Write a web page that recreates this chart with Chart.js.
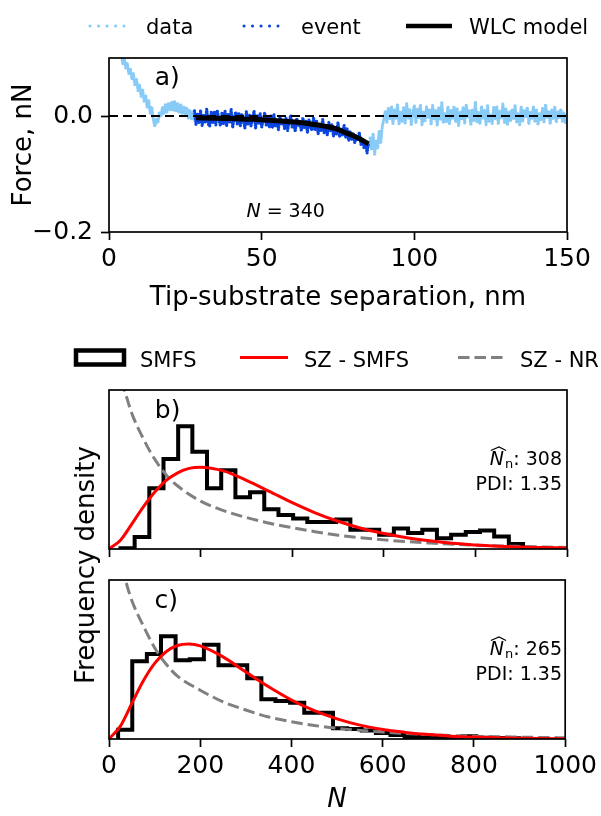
<!DOCTYPE html>
<html>
<head>
<meta charset="utf-8">
<title>SMFS chain length</title>
<script src="https://cdn.jsdelivr.net/npm/chart.js@4.4.0/dist/chart.umd.min.js"></script>
<style>
  html, body { margin: 0; padding: 0; background: #fff; }
  #fig { position: relative; width: 601px; height: 816px; overflow: hidden; }
  #fig canvas { position: absolute; left: 0; }
  #freq-label {
    position: absolute; left: 85px; top: 565px;
    transform: translate(-50%, -50%) rotate(-90deg);
    font: 26px "DejaVu Sans"; white-space: nowrap; color: #000;
  }
</style>
</head>
<body>
<div id="fig">
  <canvas id="chart-a" width="601" height="320" style="top:0"></canvas>
  <canvas id="chart-b" width="601" height="235" style="top:330px"></canvas>
  <canvas id="chart-c" width="601" height="251" style="top:565px"></canvas>
  <div id="freq-label">Frequency density</div>
</div>
<script>
// ---------------------------------------------------------------------------
// Panel a: force vs. tip-substrate separation (forces in pN, plotted in nN)
// ---------------------------------------------------------------------------
const X_TICKS_A = [0, 50, 100, 150];
const Y_TICKS_A = [-0.2, 0.0];
const SEP_STEP_NM = 0.5;

const DATA_PRE_START_NM = 3;
const DATA_PRE_PN = [
  122, 106, 108, 90, 100, 82, 91, 72, 82, 63,
  73, 52, 63, 44, 55, 34, 46, 25, 36, 15,
  27, 4, 15, -6, -18, -6, -12, 7, -1, 15,
  3, 20, 7, 23, 9, 24, 10, 26, 7, 22,
  5, 20, 3, 17, 0, 14, -4, 10, -6, 8,
  -8,
];

const DATA_POST_START_NM = 85.5;
const DATA_POST_PN = [
  -38, -58, -30, -66, -42, -55, -25, -47, -18, -6,
  9, -11, 14, -6, 17, -13, 10, -4, 19, -15,
  8, -9, 15, -14, 21, -5, 12, -16, 6, 18,
  -12, 13, -4, 20, -15, 7, -10, 16, -3, 12,
  -14, 18, -7, 11, -17, 15, -6, 23, -12, 4,
  -10, 16, -15, 10, -4, 17, -11, 13, -18, 7,
  -6, 15, -13, 19, -2, 9, -16, 12, -8, 24,
  -11, 6, -14, 16, -4, 11, -15, 18, -9, 3,
  -13, 15, -6, 17, -14, 9, -3, 21, -11, 13,
  -16, 8, -8, 12, -5, 18, -12, 6, -15, 16,
  -9, 11, -3, 15, -14, 8, -6, 17, -11, 12,
  -15, 5, -8, 13, -12, 20, -4, 9, -14, 11,
  -6, 15, -11, 8, -3, 12, -9, 6, -12, 4,
];

const EVENT_START_NM = 28;
const EVENT_PN = [
  9, -15, 5, -13, 10, -17, 2, -11, 12, -14,
  -18, 8, -12, 7, -16, 10, -7, -17, 5, -13,
  9, -18, 3, -10, 12, -20, -3, 7, -15, 5,
  -18, 4, -8, -21, 8, -14, 3, -17, -5, 9,
  -22, 2, -13, 5, -19, -8, 6, -16, -3, -20,
  0, -21, 3, -17, -9, -24, 1, -14, -6, -22,
  -3, -25, -10, 1, -20, -14, -27, -4, -18, -11,
  -26, -3, -21, -9, -29, -6, -19, -25, -2, -23,
  -9, -31, -14, -25, -6, -30, -18, -33, -11, -27,
  -14, -35, -19, -31, -11, -36, -22, -33, -16, -38,
  -22, -43, -27, -40, -29, -47, -33, -42, -28, -49,
  -38, -55, -44, -64, -48,
];

const WLC_SEP_NM = [28.5, 35, 40, 45, 50, 55, 60, 65, 70, 75, 78, 80, 82, 84, 85];
const WLC_FORCE_PN = [-3, -4, -4.5, -5.5, -6.5, -8, -10, -13, -17, -23, -30, -34, -39, -45, -48];

const EVENT_N = 340;

// ---------------------------------------------------------------------------
// Panels b, c: chain-length distributions (density in units of 1e-3)
// ---------------------------------------------------------------------------
const X_TICKS_N = [0, 200, 400, 600, 800, 1000];
const Y_MAX_DENSITY = 5.05;

const BIN_EDGES_B = [25, 56, 88, 119, 151, 182, 214, 245, 276, 308, 339, 370, 402, 433, 465,
  496, 527, 559, 590, 622, 653, 684, 716, 747, 779, 810, 841, 873, 904];
const DENSITY_B = [0.02, 0.38, 1.93, 2.86, 3.90, 3.09, 1.93, 2.50, 1.64, 1.80, 1.26, 1.08, 0.97, 0.86,
  0.86, 0.94, 0.61, 0.61, 0.45, 0.65, 0.51, 0.61, 0.34, 0.45, 0.54, 0.59, 0.40, 0.16];

const BIN_EDGES_C = [20, 51, 83, 114, 146, 177, 208, 240, 271, 303, 334, 365, 397, 428, 460,
  491, 522, 554, 585, 617, 648, 679, 711, 742, 774, 805, 836, 868, 899];
const DENSITY_C = [0.29, 2.47, 2.70, 3.26, 2.50, 2.53, 2.99, 2.34, 2.34, 1.93, 1.26, 1.21, 1.15, 0.83,
  0.83, 0.34, 0.32, 0.27, 0.19, 0.13, 0.06, 0.05, 0.05, 0.04, 0.09, 0.04, 0.03, 0.02];

const SZ_N = [0, 25, 50, 75, 100, 125, 150, 175, 200, 250, 300, 350, 400, 450, 500, 550, 600,
  650, 700, 750, 800, 850, 900, 950, 1000];
const SZ_SMFS_B = [0, 0.28, 0.80, 1.34, 1.81, 2.18, 2.42, 2.56, 2.60, 2.48, 2.18, 1.83, 1.47, 1.15,
  0.88, 0.66, 0.49, 0.36, 0.26, 0.18, 0.13, 0.09, 0.06, 0.045, 0.03];
const SZ_SMFS_C = [0, 0.41, 1.13, 1.84, 2.40, 2.77, 2.97, 3.02, 2.96, 2.61, 2.13, 1.66, 1.24, 0.90,
  0.64, 0.44, 0.30, 0.21, 0.14, 0.09, 0.06, 0.04, 0.025, 0.016, 0.01];

const NR_N = [20, 30, 40, 50, 75, 100, 125, 150, 200, 250, 300, 350, 400, 450, 500, 600, 700, 800, 900, 1000];
const SZ_NR_B = [6.4, 5.3, 4.75, 4.3, 3.5, 2.85, 2.35, 2.0, 1.52, 1.22, 1.0, 0.82, 0.68, 0.55, 0.44,
  0.29, 0.19, 0.12, 0.08, 0.05];
const SZ_NR_C = [6.5, 5.4, 4.85, 4.4, 3.6, 2.9, 2.38, 2.0, 1.55, 1.18, 0.92, 0.70, 0.55, 0.43, 0.34,
  0.22, 0.14, 0.09, 0.06, 0.04];

const NN_B = 308, PDI_B = 1.35;
const NN_C = 265, PDI_C = 1.35;

// ---------------------------------------------------------------------------
// Styling
// ---------------------------------------------------------------------------
const FONT = "DejaVu Sans";
const LIGHT_BLUE = "#88cbf6";
const EVENT_BLUE = "#0a45df";
const SPINE = 1.7;

Chart.defaults.font.family = FONT;
Chart.defaults.color = "#000";

const toPoints = (xs, ys) => xs.map((x, i) => ({ x, y: ys[i] }));
const sampled = (start, pn) => pn.map((f, i) => ({ x: start + i * SEP_STEP_NM, y: f / 1000 }));

function stepOutline(edges, heights) {
  const last = edges[edges.length - 1];
  const pts = [{ x: edges[0], y: 0 }];
  heights.forEach((h, i) => pts.push({ x: edges[i], y: h }));
  pts.push({ x: last, y: heights[heights.length - 1] }, { x: last, y: 0 });
  return pts;
}

function fixedTicks(values) {
  return (scale) => { scale.ticks = values.map((value) => ({ value })); };
}

const signed = (v) => (v < 0 ? "\u2212" : "") + Math.abs(v).toFixed(1);

// full box around the axes, drawn over the data like matplotlib spines
const frame = {
  id: "frame",
  afterDatasetsDraw(chart) {
    const { ctx, chartArea: a } = chart;
    ctx.save();
    ctx.strokeStyle = "#000";
    ctx.lineWidth = SPINE;
    ctx.strokeRect(a.left, a.top, a.right - a.left, a.bottom - a.top);
    ctx.restore();
  },
};

function drawLegend(ctx, items, baseline, handleY) {
  for (const it of items) {
    ctx.save();
    ctx.strokeStyle = it.color;
    ctx.lineWidth = it.width;
    if (it.box) {
      ctx.strokeRect(it.x0, handleY - it.box / 2, it.x1 - it.x0, it.box);
    } else {
      ctx.setLineDash(it.dash || []);
      ctx.lineCap = it.cap || "butt";
      ctx.beginPath();
      ctx.moveTo(it.x0, handleY);
      ctx.lineTo(it.x1, handleY);
      ctx.stroke();
    }
    ctx.restore();
    ctx.font = `21px "${FONT}"`;
    ctx.fillStyle = "#000";
    ctx.textAlign = "left";
    ctx.textBaseline = "alphabetic";
    ctx.fillText(it.label, it.tx, baseline);
  }
}

function text(ctx, str, x, y, size, opts = {}) {
  ctx.font = `${opts.italic ? "italic " : ""}${size}px "${FONT}"`;
  ctx.fillStyle = "#000";
  ctx.textAlign = opts.align || "left";
  ctx.textBaseline = "alphabetic";
  ctx.fillText(str, x, y);
  return ctx.measureText(str).width;
}

// "N̂n: 308" and "PDI: 1.35", right-aligned
function drawStats(ctx, right, baseline, nn, pdi) {
  const tail = `: ${nn}`;
  ctx.font = `19px "${FONT}"`;
  const wTail = ctx.measureText(tail).width;
  ctx.font = `13px "${FONT}"`;
  const wSub = ctx.measureText("n").width;
  ctx.font = `italic 19px "${FONT}"`;
  const wN = ctx.measureText("N").width;
  let x = right - wTail - wSub - wN - 1;
  text(ctx, "N", x, baseline, 19, { italic: true });
  ctx.save();
  ctx.strokeStyle = "#000";
  ctx.lineWidth = 1.2;
  ctx.beginPath();
  ctx.moveTo(x + 1, baseline - 14.5);
  ctx.lineTo(x + wN / 2 + 2, baseline - 18);
  ctx.lineTo(x + wN + 2, baseline - 14.5);
  ctx.stroke();
  ctx.restore();
  x += wN + 1;
  text(ctx, "n", x, baseline + 3, 13);
  x += wSub;
  text(ctx, tail, x, baseline, 19);
  text(ctx, `PDI: ${pdi.toFixed(2)}`, right, baseline + 25, 19, { align: "right" });
}

function axisX(ticks, min, max, height, extra = {}) {
  return {
    type: "linear", min, max,
    afterBuildTicks: fixedTicks(ticks),
    afterFit: (s) => { s.height = height; },
    grid: { drawOnChartArea: false, tickLength: 8, tickWidth: SPINE, tickColor: "#000" },
    border: { display: false },
    ticks: { font: { size: 25 }, padding: 4, maxRotation: 0, autoSkip: false, color: "#000",
      callback: (v) => String(v) },
    ...extra,
  };
}

const baseOptions = (padding, scales) => ({
  responsive: false,
  animation: false,
  events: [],
  layout: { padding },
  plugins: { legend: { display: false }, tooltip: { enabled: false } },
  elements: { point: { radius: 0 } },
  scales,
});

// ---------------------------------------------------------------------------
// Panel a
// ---------------------------------------------------------------------------
const LEGEND_A = [
  { label: "data", x0: 90, x1: 124, tx: 146, color: LIGHT_BLUE, width: 3, dash: [0.1, 8.4], cap: "round" },
  { label: "event", x0: 244, x1: 278, tx: 301, color: EVENT_BLUE, width: 3, dash: [0.1, 8.4], cap: "round" },
  { label: "WLC model", x0: 406, x1: 452, tx: 469, color: "#000", width: 4.5 },
];

const annotA = {
  id: "annotA",
  afterDraw(chart) {
    const { ctx, chartArea: a } = chart;
    drawLegend(ctx, LEGEND_A, 34, 26);
    text(ctx, "a)", a.left + 0.1 * (a.right - a.left), a.top + 27, 25);
    const x0 = a.left + 0.3 * (a.right - a.left);
    const w = text(ctx, "N", x0, 217, 19, { italic: true });
    text(ctx, ` = ${EVENT_N}`, x0 + w, 217, 19);
  },
};

const dataPoints = [
  ...sampled(DATA_PRE_START_NM, DATA_PRE_PN),
  { x: (EVENT_START_NM + DATA_POST_START_NM) / 2, y: null },
  ...sampled(DATA_POST_START_NM, DATA_POST_PN),
];

// dotted trace through jittery samples -> speckled band like the measured curve
const dotted = {
  borderWidth: 3.2, borderDash: [0.1, 2.6], borderCapStyle: "round", borderJoinStyle: "round", clip: 0,
};

new Chart(document.getElementById("chart-a"), {
  type: "line",
  data: {
    datasets: [
      { label: "WLC model", data: toPoints(WLC_SEP_NM, WLC_FORCE_PN.map((f) => f / 1000)),
        borderColor: "#000", borderWidth: 5, cubicInterpolationMode: "monotone", order: 0, clip: 0 },
      { label: "zero", data: [{ x: 0, y: 0 }, { x: 150, y: 0 }],
        borderColor: "#000", borderWidth: 2, borderDash: [9, 5], order: 1, clip: 0 },
      { label: "event", data: sampled(EVENT_START_NM, EVENT_PN), borderColor: EVENT_BLUE, order: 2, ...dotted },
      { label: "data", data: dataPoints, borderColor: LIGHT_BLUE, order: 3, ...dotted },
    ],
  },
  options: baseOptions({ top: 58, right: 34, left: 0, bottom: 0 }, {
    x: axisX(X_TICKS_A, 0, 150, 88, {
      title: { display: true, text: "Tip-substrate separation, nm", font: { size: 26 },
        padding: { top: 0, bottom: 6 } },
    }),
    y: {
      type: "linear", min: -0.2, max: 0.1,
      afterBuildTicks: fixedTicks(Y_TICKS_A),
      afterFit: (s) => { s.width = 109; },
      grid: { drawOnChartArea: false, tickLength: 8, tickWidth: SPINE, tickColor: "#000" },
      border: { display: false },
      ticks: { font: { size: 25 }, padding: 8, color: "#000", callback: signed },
      title: { display: true, text: "Force, nN", font: { size: 26 }, padding: { top: 9, bottom: 0 } },
    },
  }),
  plugins: [frame, annotA],
});

// ---------------------------------------------------------------------------
// Panels b and c
// ---------------------------------------------------------------------------
const LEGEND_B = [
  { label: "SMFS", x0: 76, x1: 124, tx: 140, color: "#000", width: 4.5, box: 14 },
  { label: "SZ - SMFS", x0: 240, x1: 288, tx: 304, color: "#ff0000", width: 3 },
  { label: "SZ - NR", x0: 458, x1: 505, tx: 520, color: "#808080", width: 3, dash: [11.5, 5] },
];

function histDatasets(edges, density, smfs, nr) {
  return [
    { label: "SZ - SMFS", data: toPoints(SZ_N, smfs), borderColor: "#ff0000", borderWidth: 3,
      cubicInterpolationMode: "monotone", order: 0, clip: 0 },
    { label: "SZ - NR", data: toPoints(NR_N, nr), borderColor: "#808080", borderWidth: 3,
      borderDash: [11.5, 5], cubicInterpolationMode: "monotone", order: 1, clip: 0 },
    { label: "SMFS", data: stepOutline(edges, density), borderColor: "#000", borderWidth: 4,
      stepped: true, borderJoinStyle: "miter", order: 2, clip: 0 },
  ];
}

const yHidden = {
  type: "linear", min: 0, max: Y_MAX_DENSITY,
  afterFit: (s) => { s.width = 109; },
  grid: { display: false }, border: { display: false }, ticks: { display: false },
};

new Chart(document.getElementById("chart-b"), {
  type: "line",
  data: { datasets: histDatasets(BIN_EDGES_B, DENSITY_B, SZ_SMFS_B, SZ_NR_B) },
  options: baseOptions({ top: 60, right: 34, left: 0, bottom: 0 }, {
    x: axisX(X_TICKS_N, 0, 1000, 16, { ticks: { display: false } }),
    y: yHidden,
  }),
  plugins: [frame, {
    id: "annotB",
    afterDraw(chart) {
      const { ctx, chartArea: a } = chart;
      drawLegend(ctx, LEGEND_B, 37, 27.5);
      text(ctx, "b)", a.left + 0.1 * (a.right - a.left), a.top + 28, 25);
      drawStats(ctx, 562, a.top + 75, NN_B, PDI_B);
    },
  }],
});

new Chart(document.getElementById("chart-c"), {
  type: "line",
  data: { datasets: histDatasets(BIN_EDGES_C, DENSITY_C, SZ_SMFS_C, SZ_NR_C) },
  options: baseOptions({ top: 15, right: 34, left: 0, bottom: 0 }, {
    x: axisX(X_TICKS_N, 0, 1000, 77, {
      title: { display: true, text: "N", font: { size: 26, style: "italic" }, padding: { top: 0, bottom: 0 } },
    }),
    y: yHidden,
  }),
  plugins: [frame, {
    id: "annotC",
    afterDraw(chart) {
      const { ctx, chartArea: a } = chart;
      text(ctx, "c)", a.left + 0.1 * (a.right - a.left), a.top + 28, 25);
      drawStats(ctx, 562, a.top + 75, NN_C, PDI_C);
    },
  }],
});
</script>
</body>
</html>
